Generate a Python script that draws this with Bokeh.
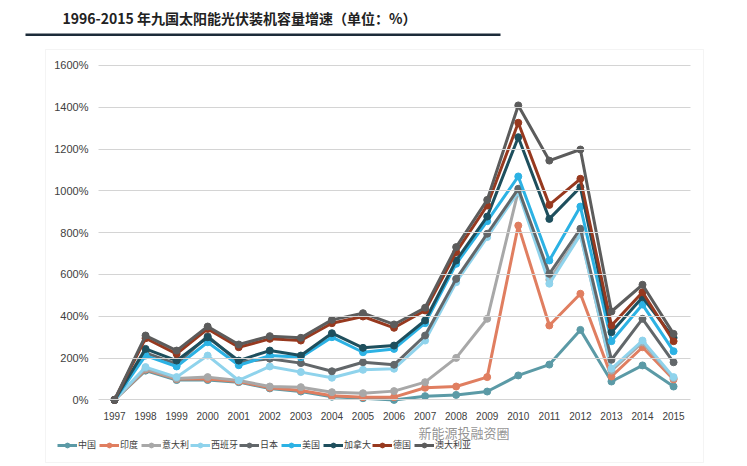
from bokeh.plotting import figure
from bokeh.models import (Range1d, FixedTicker, PrintfTickFormatter, Legend, LegendItem,
                          Label, BoxAnnotation)
from bokeh.embed import file_html
from bokeh.resources import INLINE

years = list(range(1997, 2016))
y_ticks = [0, 200, 400, 600, 800, 1000, 1200, 1400, 1600]

names = ["中国", "印度", "意大利", "西班牙", "日本", "美国", "加拿大", "德国", "澳大利亚"]
china = [0, 140, 95, 95, 85, 55, 40, 15, 8, 0, 18, 24, 40, 117, 169, 335, 88, 165, 64]
india = [0, 145, 100, 100, 88, 58, 45, 20, 13, 13, 58, 64, 109, 834, 356, 508, 112, 252, 98]
italy = [0, 149, 102, 109, 93, 64, 61, 37, 32, 42, 85, 201, 388, 1000, 575, 795, 140, 275, 104]
spain = [0, 157, 109, 212, 93, 160, 133, 106, 144, 149, 284, 563, 779, 995, 556, 790, 149, 284, 109]
japan = [0, 225, 172, 305, 180, 197, 176, 137, 180, 168, 308, 579, 795, 1010, 603, 819, 192, 388, 180]
usa = [0, 212, 160, 276, 166, 212, 204, 300, 228, 244, 367, 651, 855, 1069, 667, 925, 281, 456, 233]
canada = [0, 244, 188, 300, 188, 236, 212, 319, 249, 260, 380, 667, 877, 1257, 866, 1018, 324, 491, 297]
germany = [0, 295, 220, 340, 252, 292, 284, 367, 399, 345, 428, 707, 930, 1326, 933, 1058, 356, 515, 281]
australia = [0, 308, 236, 351, 265, 305, 297, 383, 415, 361, 441, 731, 957, 1409, 1145, 1198, 423, 551, 316]
series = [china, india, italy, spain, japan, usa, canada, germany, australia]
colors = ["#5b9aa6", "#e07e60", "#a8a8a8", "#8fd3ec", "#62676a", "#2cb2e4", "#1e4f5d", "#97391f", "#5c5c5c"]

title_text = "1996-2015 年九国太阳能光伏装机容量增速（单位：%）"
watermark = "新能源投融资圈"

W, H = 747, 466
# frame covers the whole canvas; axes are pinned inside it with fixed_location
x0 = 1996.485          # left end of the plotting area (gridline start)
p = figure(width=W, height=H, output_backend="svg", toolbar_location=None,
           x_range=Range1d(1993.3297, 2017.3801), y_range=Range1d(-318.66, 1911.0),
           min_border=0, min_border_left=0, min_border_right=0,
           min_border_top=0, min_border_bottom=0)
p.title.visible = False
p.outline_line_color = None
p.xgrid.visible = False
p.ygrid.visible = False

# y axis: labels left of the plotting area, ticks stretched across it as gridlines
p.yaxis.fixed_location = x0
p.yaxis.ticker = FixedTicker(ticks=y_ticks)
p.yaxis.formatter = PrintfTickFormatter(format="%d%%")
p.yaxis.axis_line_color = None
p.yaxis.major_tick_out = 0
p.yaxis.major_tick_in = 592
p.yaxis.major_tick_line_color = "#d4d4d4"
p.yaxis.minor_tick_line_color = None
p.yaxis.major_label_standoff = 10
p.yaxis.major_label_text_font_size = "11px"

p.xaxis.fixed_location = 0
p.xaxis.ticker = FixedTicker(ticks=years)
p.xaxis.axis_line_color = None
p.xaxis.major_tick_line_color = None
p.xaxis.minor_tick_line_color = None
p.xaxis.major_tick_out = 0
p.xaxis.major_tick_in = 0
p.xaxis.major_label_standoff = 12
p.xaxis.major_label_text_font_size = "10px"
for ax in (p.xaxis, p.yaxis):
    ax.major_label_text_color = "#404040"
    ax.major_label_text_font = "Liberation Sans"

# chart border and title underline
p.add_layout(BoxAnnotation(left=45, right=703, bottom=4, top=417,
                           left_units="screen", right_units="screen",
                           top_units="screen", bottom_units="screen",
                           fill_alpha=0, line_color="#d9d9d9", line_width=1, level="underlay"))
p.add_layout(BoxAnnotation(left=25, right=500, bottom=430.5, top=433,
                           left_units="screen", right_units="screen",
                           top_units="screen", bottom_units="screen",
                           fill_color="#1c2b39", fill_alpha=1, line_color=None))
p.add_layout(Label(x=62, y=449, x_units="screen", y_units="screen", text=title_text,
                   text_font="Noto Sans CJK SC", text_font_style="bold",
                   text_font_size="14px", text_color="#222222", text_baseline="middle"))

items = []
for name, vals, c in zip(names, series, colors):
    r1 = p.line(years, vals, line_color=c, line_width=3)
    r2 = p.scatter(years, vals, marker="circle", size=7, fill_color=c, line_color=c)
    items.append(LegendItem(label=name, renderers=[r1, r2]))

legend = Legend(items=items, orientation="horizontal", location=(57, 15),
                glyph_width=20, glyph_height=12, label_height=12, label_standoff=1,
                spacing=1, padding=0, margin=0,
                label_text_font="Noto Sans CJK SC", label_text_font_size="9px",
                label_text_color="#404040", border_line_color=None,
                background_fill_alpha=0)
p.add_layout(legend, "center")

p.add_layout(Label(x=418, y=34, x_units="screen", y_units="screen", text=watermark,
                   text_font="Noto Sans CJK SC", text_font_size="13px",
                   text_color="#808080", text_alpha=0.85, text_baseline="middle"))

open("out.html", "w").write(file_html(p, INLINE))
